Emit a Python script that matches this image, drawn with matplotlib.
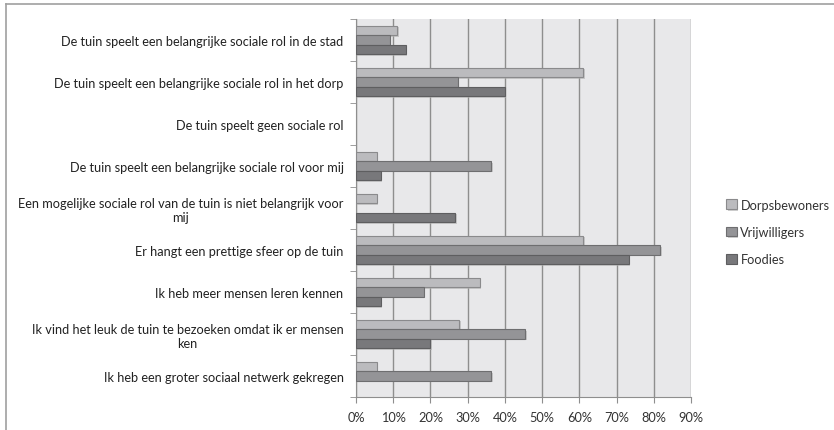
import matplotlib.pyplot as plt
import matplotlib.patheffects as pe
from matplotlib.lines import Line2D
import numpy as np

categories = [
    "De tuin speelt een belangrijke sociale rol in de stad",
    "De tuin speelt een belangrijke sociale rol in het dorp",
    "De tuin speelt geen sociale rol",
    "De tuin speelt een belangrijke sociale rol voor mij",
    "Een mogelijke sociale rol van de tuin is niet belangrijk voor\nmij",
    "Er hangt een prettige sfeer op de tuin",
    "Ik heb meer mensen leren kennen",
    "Ik vind het leuk de tuin te bezoeken omdat ik er mensen\nken",
    "Ik heb een groter sociaal netwerk gekregen",
]
dorpsbewoners = [11.1, 61.1, 0, 5.6, 5.6, 61.1, 33.3, 27.8, 5.6]
vrijwilligers = [9.1, 27.3, 0, 36.4, 0, 81.8, 18.2, 45.5, 36.4]
foodies = [13.3, 40.0, 0, 6.7, 26.7, 73.3, 6.7, 20.0, 0]
series = [("Dorpsbewoners", dorpsbewoners, "#bbbbbe", "#8a8a8c"),
          ("Vrijwilligers", vrijwilligers, "#949497", "#6e6e70"),
          ("Foodies", foodies, "#78787b", "#5e5e60")]
xticks = list(range(0, 100, 10))

plt.rcParams['font.family'] = ['Lato', 'DejaVu Sans']

fig = plt.figure(figsize=(8.34, 4.31), dpi=100)
ax = fig.add_axes([356 / 834, 1 - 398 / 431, (691 - 356) / 834, (398 - 20) / 431])
ax.set_facecolor("#e8e8ea")

# chart border fragments (top and left edge)
fig.add_artist(Line2D([6 / 834, 6 / 834], [0, 1 - 5 / 431], transform=fig.transFigure,
                      color="#a0a0a0", linewidth=1.2))
fig.add_artist(Line2D([6 / 834, 1], [1 - 5 / 431, 1 - 5 / 431], transform=fig.transFigure,
                      color="#a0a0a0", linewidth=1.2))

y = np.arange(len(categories))
h = 0.225
shadow = [pe.SimplePatchShadow(offset=(1, -1), shadow_rgbFace="#b0b0b0", alpha=0.6), pe.Normal()]
for i, (name, vals, col, edge) in enumerate(series):
    bars = ax.barh(y + (i - 1) * h, vals, height=h, color=col, edgecolor=edge,
                   linewidth=0.8, label=name, zorder=3)
    for b in bars:
        if b.get_width() > 0:
            b.set_path_effects(shadow)
        else:
            b.set_visible(False)

ax.set_xlim(0, 90)
ax.set_ylim(len(categories) - 0.5, -0.5)
ax.set_xticks(xticks)
ax.set_xticklabels([f"{t}%" for t in xticks], fontsize=9.2, color="#333333")
ax.xaxis.grid(True, color="#8e8e8e", linewidth=1.0, zorder=1)
ax.set_axisbelow(True)

ax.set_yticks(y)
ax.set_yticklabels(categories, fontsize=9.2, color="#222222", ha="right", multialignment="center")
ax.tick_params(axis="y", which="major", length=0, pad=9)
ax.set_yticks(np.arange(-0.5, len(categories), 1), minor=True)
ax.tick_params(axis="y", which="minor", length=4, color="#8e8e8e")
ax.tick_params(axis="x", length=4, color="#8e8e8e", pad=6)

for s in ["top", "right"]:
    ax.spines[s].set_visible(False)
for s in ["left", "bottom"]:
    ax.spines[s].set_color("#8e8e8e")

leg = fig.legend(*ax.get_legend_handles_labels(), loc="center left",
                 bbox_to_anchor=(720 / 834, 1 - 233 / 431), frameon=False, borderpad=0,
                 fontsize=9.2, handlelength=0.8, handleheight=0.8, handletextpad=0.3,
                 labelspacing=1.2)
for t in leg.get_texts():
    t.set_color("#333333")

fig.savefig("out.png", dpi=100)
